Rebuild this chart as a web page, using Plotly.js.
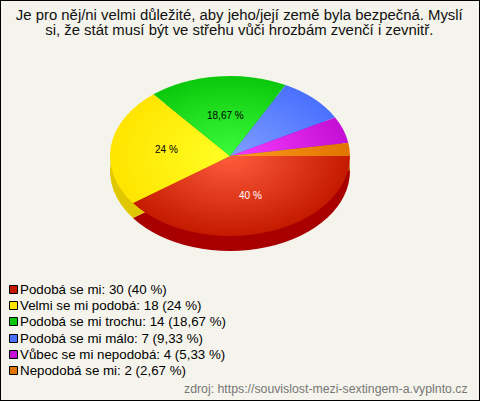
<!DOCTYPE html>
<html><head><meta charset="utf-8">
<script src="https://cdn.plot.ly/plotly-3.0.1.min.js"></script>
<style>html,body{margin:0;padding:0;background:#f5f4ec;overflow:hidden}</style>
</head><body><div id="chart" style="width:480px;height:401px"></div>
<script>
const categories = ["Podobá se mi","Velmi se mi podobá","Podobá se mi trochu","Podobá se mi málo","Vůbec se mi nepodobá","Nepodobá se mi"];
const counts = [30,18,14,7,4,2];
const percentLabels = ["40 %","24 %","18,67 %","9,33 %","5,33 %","2,67 %"];
const legendLabels = categories.map((c,i)=>c+": "+counts[i]+" ("+percentLabels[i]+")");
const rimColors = ["#c41a00","#ffe400","#0cc80c","#4a70ff","#c410d4","#e07400"];
const centerColors = ["#ff5c3c","#ffff24","#3cfc3c","#809fff","#f83cff","#ff9c1c"];
const wallColors = ["#a80000","#e0c800","#0aa00a","#3050d0","#9000a0","#b05000"];
const titleText = "Je pro něj/ni velmi důležité, aby jeho/její země byla bezpečná. Myslí<br>si, že stát musí být ve střehu vůči hrozbám zvenčí i zevnitř.";
const sourceText = "zdroj: https://souvislost-mezi-sextingem-a.vyplnto.cz";
const W=480,H=401,CX=230,CY=156,R=120,SQUASH=2/3,DEPTH=15;
const dom={x:[(CX-R)/W,(CX+R)/W],y:[1-(CY+R)/H,1-(CY-R)/H]};
const pieBase={type:'pie',values:counts,labels:legendLabels,sort:false,direction:'clockwise',rotation:90,domain:dom,
  textinfo:'none',hoverinfo:'skip',automargin:false};
const traces=[
 Object.assign({},pieBase,{name:'wall',showlegend:false,marker:{colors:wallColors,line:{width:0}}}),
 Object.assign({},pieBase,{name:'top',marker:{colors:rimColors,line:{width:0}}})
];
const FF='Liberation Sans, Arial';
const ann=(x,y,text,size,color,anchor)=>({xref:'paper',yref:'paper',x:x/W,y:1-y/H,text,showarrow:false,xanchor:anchor||'center',yanchor:'middle',font:{family:FF,size,color}});
const layout={width:W,height:H,margin:{l:0,r:0,t:0,b:0,autoexpand:false},paper_bgcolor:'#f5f4ec',plot_bgcolor:'#f5f4ec',
 font:{family:FF,color:'#000'},
 title:{text:titleText,font:{family:FF,size:14.9,color:'#111'},x:0.4985,xanchor:'center',y:0.951,yanchor:'middle',automargin:false},
 legend:{x:0.0,xanchor:'left',y:1-280/H,yanchor:'top',bgcolor:'rgba(0,0,0,0)',font:{family:FF,size:13.33,color:'#000'},traceorder:'normal',itemclick:false},
 annotations:[ann(250,195,percentLabels[0],10,'#fff'),ann(166,149,percentLabels[1],10,'#000'),ann(225,115,percentLabels[2],10,'#000'),
   ann(470,389,sourceText,12.3,'#777','right')],
 shapes:[{type:'rect',xref:'paper',yref:'paper',x0:0,x1:1,y0:0,y1:1,line:{color:'#000',width:2},fillcolor:'rgba(0,0,0,0)'}]
};
const LEG_TOP=289, LEG_STEP=16.2;
function decorate(gd){
  const svg=gd.querySelector('svg.main-svg');
  const groups=gd.querySelectorAll('.pielayer .trace');
  const cd=gd.calcdata[0][0];
  const cx=cd.cx,cy=cd.cy,r=cd.r;
  let defs=svg.querySelector('defs#gradDefs');
  if(!defs){
    defs=document.createElementNS('http://www.w3.org/2000/svg','defs');defs.id='gradDefs';
    defs.innerHTML=rimColors.map((c,i)=>`<radialGradient id="sliceGrad${i}" gradientUnits="userSpaceOnUse" cx="${cx}" cy="${cy}" r="${r}"><stop offset="0" stop-color="${centerColors[i]}"/><stop offset="1" stop-color="${c}"/></radialGradient>`).join('');
    svg.insertBefore(defs,svg.firstChild);
  }
  groups.forEach((g,t)=>{
    const dy=t===0?DEPTH:0;
    g.setAttribute('transform',`translate(${CX},${CY+dy}) scale(${R/r},${SQUASH*R/r}) translate(${-cx},${-cy})`);
    if(t===1) g.querySelectorAll('path.surface').forEach((p,i)=>{p.style.fill=`url(#sliceGrad${i})`;});
  });
  const leg=gd.querySelector('.legend');
  const m=/translate\(([-\d.]+)[ ,]+([-\d.]+)\)/.exec(leg.getAttribute('transform')||'');
  const ly=m?parseFloat(m[2]):0, lx=m?parseFloat(m[1]):0;
  const clip=leg.querySelector('clipPath rect'); if(clip){clip.setAttribute('height','200');clip.setAttribute('width','300');}
  leg.querySelectorAll('.traces').forEach((tr,i)=>{
    const rowY=Math.round(LEG_TOP+i*LEG_STEP);
    tr.setAttribute('transform',`translate(0,${rowY-ly})`);
    const p=tr.querySelector('.legendpoints path');
    if(p){p.setAttribute('d','M4,4V-4H-4V4Z');p.style.stroke='#000';p.style.strokeWidth='1px';p.style.strokeLinejoin='miter';
      p.setAttribute('transform',`translate(${13.5-lx},0.5)`);}
    const tx=tr.querySelector('text.legendtext');
    if(tx){tx.setAttribute('x',String(20-lx));}
  });
  const lines=gd.querySelectorAll('.gtitle tspan.line');
  if(lines.length>1) lines[1].setAttribute('dy','15px');
}
const gd=document.getElementById('chart');
Plotly.newPlot(gd,traces,layout,{displayModeBar:false,staticPlot:true}).then(()=>{decorate(gd);});
</script></body></html>
